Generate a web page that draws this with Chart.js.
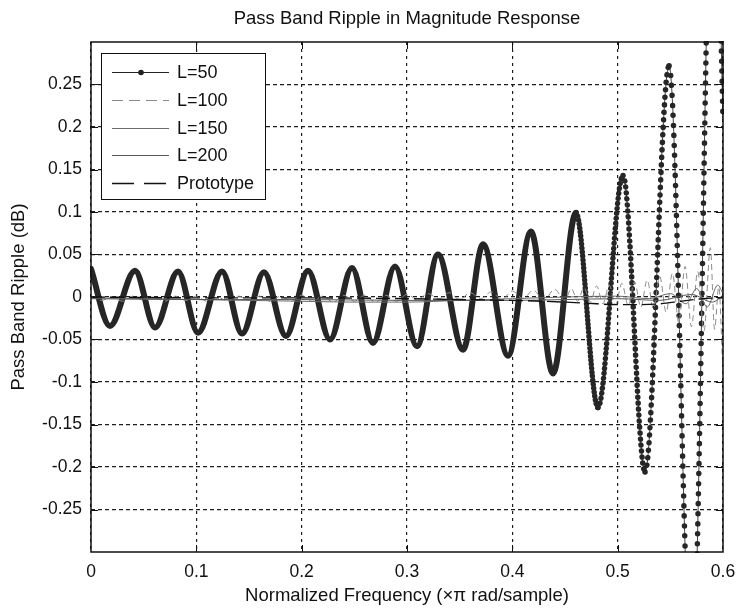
<!DOCTYPE html>
<html>
<head>
<meta charset="utf-8">
<title>Pass Band Ripple in Magnitude Response</title>
<script src="https://cdn.jsdelivr.net/npm/chart.js@4.4.1/dist/chart.umd.min.js"></script>
<style>
    html, body { margin: 0; padding: 0; background: #fff; }
    #wrap { width: 737px; height: 611px; }
</style>
</head>
<body>
<div id="wrap"><canvas id="ripple" width="737" height="611"></canvas></div>
<script>
// Values: frequency in (x pi rad/sample), ripple in dB
const xTicks = [0, 0.1, 0.2, 0.3, 0.4, 0.5, 0.6];
const yTicks = [-0.25, -0.2, -0.15, -0.1, -0.05, 0, 0.05, 0.1, 0.15, 0.2, 0.25];

// L=50: the big ripple, listed peak / trough by peak / trough
const l50Freq = [0, 0.018, 0.0418, 0.0608, 0.0826, 0.1016, 0.1244, 0.1434, 0.1642, 0.1851,
    0.206, 0.2269, 0.2478, 0.2677, 0.2886, 0.3095, 0.3294, 0.3532, 0.3722, 0.3959,
    0.4177, 0.4386, 0.4604, 0.4813, 0.5051, 0.526, 0.5488, 0.5705, 0.5915, 0.6];
const l50Ripple = [0.033, -0.034, 0.031, -0.036, 0.030, -0.042, 0.030, -0.043, 0.029, -0.046,
    0.031, -0.050, 0.034, -0.054, 0.036, -0.058, 0.050, -0.062, 0.062, -0.069,
    0.077, -0.090, 0.099, -0.130, 0.143, -0.206, 0.272, -0.45, 0.60, 0.21];

// L=100: small wiggles that grow near the band edge
const l100Freq = [0, 0.01, 0.02, 0.03, 0.04, 0.05, 0.06, 0.07, 0.08, 0.09,
    0.10, 0.11, 0.12, 0.13, 0.14, 0.15, 0.16, 0.17, 0.18, 0.19,
    0.20, 0.21, 0.22, 0.23, 0.24, 0.25, 0.26, 0.27, 0.28, 0.29,
    0.30, 0.31, 0.32, 0.33, 0.34, 0.35, 0.36, 0.37, 0.38, 0.39,
    0.40, 0.41, 0.42, 0.43, 0.44, 0.45, 0.456, 0.462, 0.468, 0.474,
    0.480, 0.486, 0.492, 0.498, 0.504, 0.510, 0.516, 0.522, 0.528, 0.534,
    0.540, 0.546, 0.552, 0.558, 0.564, 0.570, 0.576, 0.582, 0.588, 0.592,
    0.596, 0.6];
const l100Ripple = [0.001, -0.004, 0.000, -0.005, 0.001, -0.004, 0.000, -0.005, 0.001, -0.004,
    0.001, -0.005, 0.000, -0.005, 0.001, -0.004, 0.001, -0.005, 0.001, -0.005,
    0.002, -0.005, 0.001, -0.006, 0.002, -0.005, 0.002, -0.006, 0.002, -0.005,
    0.003, -0.003, 0.004, -0.002, 0.005, -0.003, 0.005, -0.002, 0.006, -0.003,
    0.007, -0.002, 0.008, -0.004, 0.009, -0.004, 0.010, -0.005, 0.011, -0.006,
    0.013, -0.008, 0.014, -0.009, 0.016, -0.010, 0.018, -0.012, 0.020, -0.014,
    0.024, -0.018, 0.028, -0.030, 0.036, -0.035, 0.030, -0.040, 0.058, -0.038,
    0.012, -0.092];

const l150Freq = [0, 0.05, 0.1, 0.15, 0.2, 0.25, 0.3, 0.35, 0.4, 0.45,
    0.5, 0.53, 0.55, 0.565, 0.575, 0.585, 0.595, 0.6];
const l150Ripple = [-0.001, -0.002, -0.003, -0.004, -0.005, -0.006, -0.006, -0.004, -0.002, 0.000,
    0.001, -0.002, 0.004, -0.008, 0.010, -0.012, 0.014, 0.004];

const l200Freq = [0, 0.1, 0.2, 0.3, 0.4, 0.45, 0.5, 0.54, 0.57, 0.59, 0.6];
const l200Ripple = [-0.002, -0.003, -0.003, -0.004, -0.004, -0.003, -0.002, -0.004, 0.003, -0.006, 0.002];

const protoFreq = [0, 0.1, 0.2, 0.3, 0.35, 0.4, 0.45, 0.48, 0.5, 0.52, 0.54, 0.56, 0.58, 0.6];
const protoRipple = [0.000, -0.001, -0.001, -0.002, -0.003, -0.004, -0.006, -0.008, -0.009, -0.009,
    -0.008, -0.005, -0.002, -0.001];

const FONT = "'Liberation Sans', Arial, Helvetica, sans-serif";

function toPoints(xs, ys) {
    return xs.map((x, i) => ({ x: x, y: ys[i] }));
}

function fmt(v) {
    return String(Number(v.toFixed(2)));
}

// markers of the L=50 curve separate out where the curve gets steep
function markerGap(x) {
    if (x < 0.45) return undefined;
    if (x < 0.475) return [0.01, 4];
    if (x < 0.50) return [0.01, 5];
    if (x < 0.52) return [0.01, 6];
    if (x < 0.545) return [0.01, 7.5];
    return [0.01, 10];
}

// MATLAB style box: inward ticks, frame, title and legend
const matlabAxes = {
    id: 'matlabAxes',
    afterDatasetsDraw(chart) {
        const { ctx, chartArea: a, scales: { x, y } } = chart;
        ctx.save();

        ctx.strokeStyle = '#111';
        ctx.lineWidth = 1;
        ctx.setLineDash([]);
        ctx.beginPath();
        xTicks.forEach(v => {
            if (v <= 0 || v >= 0.6) return;
            const px = Math.round(x.getPixelForValue(v)) + 0.5;
            ctx.moveTo(px, a.bottom); ctx.lineTo(px, a.bottom - 7);
            ctx.moveTo(px, a.top); ctx.lineTo(px, a.top + 7);
        });
        yTicks.forEach(v => {
            const py = Math.round(y.getPixelForValue(v)) + 0.5;
            ctx.moveTo(a.left, py); ctx.lineTo(a.left + 7, py);
            ctx.moveTo(a.right, py); ctx.lineTo(a.right - 7, py);
        });
        ctx.stroke();

        ctx.lineWidth = 1.5;
        ctx.strokeRect(a.left, a.top, a.right - a.left, a.bottom - a.top);

        // title centred over the axes
        ctx.fillStyle = '#111';
        ctx.font = '18.5px ' + FONT;
        ctx.textAlign = 'center';
        ctx.textBaseline = 'alphabetic';
        ctx.fillText('Pass Band Ripple in Magnitude Response', (a.left + a.right) / 2, 24);

        // legend
        const box = { x: 101, y: 53, w: 164, h: 146 };
        ctx.fillStyle = '#fff';
        ctx.fillRect(box.x, box.y, box.w, box.h);
        ctx.lineWidth = 1;
        ctx.strokeStyle = '#111';
        ctx.strokeRect(box.x + 0.5, box.y + 0.5, box.w, box.h);

        const entries = chart.data.datasets.filter(d => d.inLegend);
        ctx.font = '18px ' + FONT;
        ctx.textAlign = 'left';
        ctx.textBaseline = 'middle';
        entries.forEach((d, i) => {
            const ly = Math.round(box.y + 19 + i * 27.75) + 0.5;
            ctx.strokeStyle = d.legendColor;
            ctx.lineWidth = d.legendWidth;
            ctx.setLineDash(d.legendDash);
            ctx.beginPath();
            ctx.moveTo(box.x + 11, ly);
            ctx.lineTo(box.x + 68, ly);
            ctx.stroke();
            ctx.setLineDash([]);
            if (d.legendMarker) {
                ctx.fillStyle = d.legendColor;
                ctx.beginPath();
                ctx.arc(box.x + 40, ly, 2.8, 0, Math.PI * 2);
                ctx.fill();
            }
            ctx.fillStyle = '#111';
            ctx.fillText(d.label, box.x + 76, ly + 1);
        });

        ctx.restore();
    }
};

const datasets = [
    {
        label: 'L=50',
        inLegend: true, legendColor: '#222', legendWidth: 1, legendDash: [], legendMarker: true,
        data: toPoints(l50Freq, l50Ripple),
        borderColor: '#262626',
        borderWidth: 6,
        borderCapStyle: 'round',
        borderJoinStyle: 'round',
        cubicInterpolationMode: 'monotone',
        pointRadius: 0,
        clip: 1,
        order: 5,
        segment: {
            borderDash: ctx => markerGap(ctx.p0.parsed.x),
            borderWidth: ctx => (ctx.p0.parsed.x >= 0.45 ? 5.5 : undefined)
        }
    },
    {
        // thin line joining the L=50 markers
        label: 'L=50 line',
        data: toPoints(l50Freq, l50Ripple),
        borderColor: '#444',
        borderWidth: 1,
        cubicInterpolationMode: 'monotone',
        pointRadius: 0,
        clip: 0,
        order: 6
    },
    {
        label: 'L=100',
        inLegend: true, legendColor: '#8a8a8a', legendWidth: 1, legendDash: [11, 6],
        data: toPoints(l100Freq, l100Ripple),
        borderColor: '#8a8a8a',
        borderWidth: 1,
        borderDash: [6, 4],
        cubicInterpolationMode: 'monotone',
        pointRadius: 0,
        clip: 0,
        order: 4
    },
    {
        label: 'L=150',
        inLegend: true, legendColor: '#6a6a6a', legendWidth: 1, legendDash: [],
        data: toPoints(l150Freq, l150Ripple),
        borderColor: '#6a6a6a',
        borderWidth: 1,
        cubicInterpolationMode: 'monotone',
        pointRadius: 0,
        clip: 0,
        order: 3
    },
    {
        label: 'L=200',
        inLegend: true, legendColor: '#555', legendWidth: 1, legendDash: [],
        data: toPoints(l200Freq, l200Ripple),
        borderColor: '#555',
        borderWidth: 1,
        cubicInterpolationMode: 'monotone',
        pointRadius: 0,
        clip: 0,
        order: 2
    },
    {
        label: 'Prototype',
        inLegend: true, legendColor: '#111', legendWidth: 1.4, legendDash: [22, 10],
        data: toPoints(protoFreq, protoRipple),
        borderColor: '#111',
        borderWidth: 1.4,
        borderDash: [14, 5],
        cubicInterpolationMode: 'monotone',
        pointRadius: 0,
        clip: 0,
        order: 1
    }
];

new Chart(document.getElementById('ripple'), {
    type: 'line',
    data: { datasets: datasets },
    options: {
        responsive: false,
        animation: false,
        events: [],
        layout: { padding: { top: 42, right: 14, bottom: 0, left: 0 } },
        plugins: {
            legend: { display: false },
            tooltip: { enabled: false },
            title: { display: false }
        },
        scales: {
            x: {
                type: 'linear',
                min: 0,
                max: 0.6,
                afterFit: s => { s.height = 59; s.paddingLeft = 0; s.paddingRight = 0; },
                afterBuildTicks: s => { s.ticks = xTicks.map(v => ({ value: v })); },
                ticks: {
                    padding: 10,
                    autoSkip: false,
                    maxRotation: 0,
                    color: '#111',
                    font: { family: FONT, size: 17.5 },
                    callback: v => fmt(v)
                },
                grid: { color: '#1e1e1e', lineWidth: 1.2, drawTicks: false },
                border: { display: false, dash: [3, 4] },
                title: {
                    display: true,
                    text: 'Normalized Frequency (\u00d7\u03c0 rad/sample)',
                    color: '#111',
                    font: { family: FONT, size: 18.5 },
                    padding: { top: 0, bottom: 3.5 }
                }
            },
            y: {
                type: 'linear',
                min: -0.3,
                max: 0.3,
                afterFit: s => { s.width = 91; s.paddingTop = 0; s.paddingBottom = 0; },
                afterBuildTicks: s => { s.ticks = yTicks.map(v => ({ value: v })); },
                ticks: {
                    padding: 9,
                    autoSkip: false,
                    color: '#111',
                    font: { family: FONT, size: 17.5 },
                    callback: v => fmt(v)
                },
                grid: { color: '#1e1e1e', lineWidth: 1.2, drawTicks: false },
                border: { display: false, dash: [4, 3] },
                title: {
                    display: true,
                    text: 'Pass Band Ripple (dB)',
                    color: '#111',
                    font: { family: FONT, size: 18.5 },
                    padding: { top: 8, bottom: 0 }
                }
            }
        }
    },
    plugins: [matlabAxes]
});
</script>
</body>
</html>
